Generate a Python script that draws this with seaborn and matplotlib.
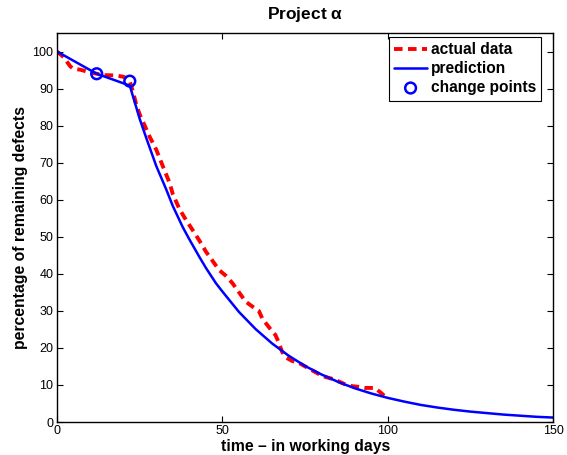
import matplotlib
matplotlib.use("Agg")
import matplotlib.pyplot as plt
import seaborn as sns
import pandas as pd

# observed defect curve (percentage of remaining defects per working day)
actual_days = [0, 2, 4, 5, 7, 9, 11, 12, 14, 16, 18, 20, 21, 22, 23, 24, 25, 26,
               28, 30, 32, 34, 35, 37, 39, 41, 43, 45, 47, 49, 51, 53, 55, 57,
               59, 61, 62, 63, 65, 66, 67, 68, 69, 71, 73, 75, 77, 79, 81, 83,
               85, 87, 89, 91, 93, 95, 96, 97, 98, 99, 100]
actual_pct = [100, 98.5, 96, 95.3, 95.1, 94.6, 94.2, 94, 93.6, 93.6, 93.5, 93.2,
              92.8, 92, 89, 85.5, 83, 81, 77, 73.5, 69, 64.6, 61.5, 57.5, 54.5,
              51.8, 49, 46, 43.5, 41, 39.5, 37.5, 35, 32.5, 31.2, 30, 28, 26.8,
              24.5, 23.5, 21.5, 19, 17.5, 16.5, 16, 15, 14, 13, 12.2, 11.7, 11,
              10.2, 9.7, 9.5, 9.2, 9.2, 9.2, 8.5, 7.8, 7, 6.5]

# model prediction
pred_days = [0, 12, 22, 23, 25, 27, 30, 33, 35, 38, 40, 43, 45, 48, 50, 55, 60,
             65, 70, 75, 80, 85, 90, 95, 100, 105, 110, 115, 120, 125, 130, 135,
             140, 145, 150]
pred_pct = [100, 94, 90.8, 87.8, 81.8, 76.6, 69.1, 62.8, 58.3, 52.6, 49.3, 44.6,
            41.6, 37.5, 35.2, 29.7, 25.1, 21.2, 17.9, 15.1, 12.8, 10.8, 9.1,
            7.7, 6.5, 5.5, 4.6, 3.9, 3.3, 2.8, 2.4, 2.0, 1.7, 1.4, 1.2]

# detected change points
change_days = [12, 22]
change_pct = [94, 92]

x_ticks = [0, 50, 100, 150]
y_ticks = [0, 10, 20, 30, 40, 50, 60, 70, 80, 90, 100]

sns.set_style("ticks")
plt.rcParams["font.family"] = ["Liberation Sans", "DejaVu Sans"]
plt.rcParams["xtick.direction"] = "in"
plt.rcParams["ytick.direction"] = "in"
for key in ("text.color", "axes.labelcolor", "xtick.color", "ytick.color",
            "axes.edgecolor"):
    plt.rcParams[key] = "black"

fig = plt.figure(figsize=(5.67, 4.55), dpi=100)
ax = fig.add_axes([0.1005, 0.0725, 0.8755, 0.855])

actual_df = pd.DataFrame({"day": actual_days, "pct": actual_pct})
pred_df = pd.DataFrame({"day": pred_days, "pct": pred_pct})
cp_df = pd.DataFrame({"day": change_days, "pct": change_pct})

sns.lineplot(data=actual_df, x="day", y="pct", ax=ax, color="#ff0000",
             linewidth=2.8, linestyle=(0, (2.2, 1.4)), label="actual data",
             estimator=None, sort=False)
sns.lineplot(data=pred_df, x="day", y="pct", ax=ax, color="#0000ff",
             linewidth=1.8, label="prediction", estimator=None, sort=False)
sns.scatterplot(data=cp_df, x="day", y="pct", ax=ax, marker="o", s=60,
                facecolor="none", edgecolor="#0000ff", linewidth=1.8,
                label="change points", zorder=5)

ax.set_xlim(0, 150)
ax.set_ylim(0, 105)
ax.set_xticks(x_ticks)
ax.set_yticks(y_ticks)
ax.tick_params(axis="both", which="both", top=True, right=True, length=4,
               width=0.8, labelsize=9, colors="black", pad=2.5)
for s in ax.spines.values():
    s.set_visible(True)
    s.set_linewidth(1.0)
    s.set_color("black")

ax.set_xlabel("time \u2013 in working days", fontsize=11.3, fontweight="bold",
              labelpad=1)
ax.set_ylabel("percentage of remaining defects", fontsize=11.3,
              fontweight="bold", labelpad=3)
ax.set_title("Project $\\mathregular{\\alpha}$", fontsize=12.5,
             fontweight="bold", pad=10)

leg = ax.legend(loc="upper right", bbox_to_anchor=(0.976, 0.99),
                fontsize=11.2, frameon=True, fancybox=False,
                edgecolor="black", framealpha=1, borderpad=0.35,
                handlelength=2.1, handletextpad=0.25, labelspacing=0.25,
                borderaxespad=0)
leg.get_frame().set_linewidth(0.8)
for t in leg.get_texts():
    t.set_fontweight("bold")

fig.savefig("out.png", dpi=100)
